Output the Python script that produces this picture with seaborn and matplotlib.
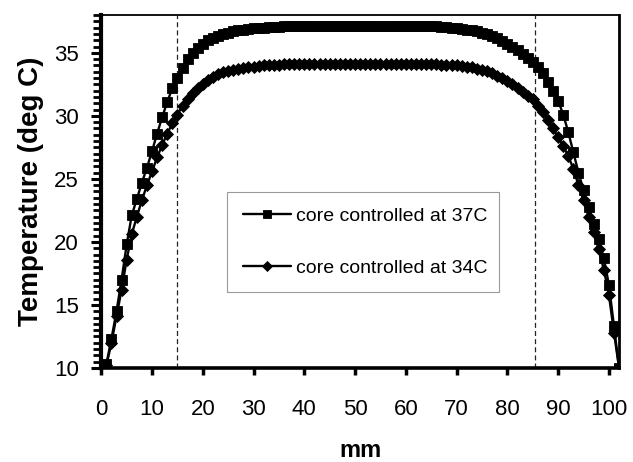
import numpy as np
import pandas as pd
import matplotlib
matplotlib.use("Agg")
import matplotlib.pyplot as plt
from matplotlib.ticker import MultipleLocator
import seaborn as sns

# ---- data ----
mm = list(range(0, 103))

temp_37 = [
    10.0, 10.3, 12.3, 14.5, 17.0, 19.8, 22.1, 23.4, 24.7, 25.9,
    27.2, 28.6, 29.9, 31.1, 32.2, 33.0, 33.8, 34.5, 35.0, 35.4,
    35.7, 36.0, 36.2, 36.35, 36.5, 36.6, 36.7, 36.8, 36.85, 36.9,
    36.95, 37.0, 37.0, 37.05, 37.05, 37.05, 37.1, 37.1, 37.1, 37.1,
    37.1, 37.1, 37.1, 37.1, 37.1, 37.1, 37.1, 37.1, 37.1, 37.1,
    37.1, 37.1, 37.1, 37.1, 37.1, 37.1, 37.1, 37.1, 37.1, 37.1,
    37.1, 37.1, 37.1, 37.1, 37.1, 37.1, 37.1, 37.05, 37.05, 37.0,
    36.95, 36.9, 36.85, 36.8, 36.7, 36.6, 36.5, 36.35, 36.2, 35.95,
    35.7, 35.45, 35.2, 34.9, 34.6, 34.3, 33.9, 33.4, 32.7, 32.0,
    31.2, 30.1, 28.7, 27.1, 25.5, 24.1, 22.8, 21.4, 20.2, 18.7,
    16.6, 13.3, 10.0,
]

temp_34 = [
    10.0, 10.2, 12.0, 14.1, 16.2, 18.6, 20.6, 22.0, 23.3, 24.5,
    25.6, 26.7, 27.7, 28.6, 29.4, 30.1, 30.8, 31.3, 31.8, 32.2,
    32.55, 32.85, 33.1, 33.3, 33.45, 33.55, 33.65, 33.75, 33.8, 33.85,
    33.9, 33.95, 34.0, 34.0, 34.05, 34.05, 34.1, 34.1, 34.1, 34.1,
    34.1, 34.1, 34.1, 34.1, 34.1, 34.1, 34.1, 34.1, 34.1, 34.1,
    34.1, 34.1, 34.1, 34.1, 34.1, 34.1, 34.1, 34.1, 34.1, 34.1,
    34.1, 34.1, 34.1, 34.1, 34.1, 34.1, 34.1, 34.05, 34.05, 34.0,
    34.0, 33.95, 33.9, 33.85, 33.75, 33.65, 33.55, 33.4, 33.2, 33.0,
    32.8, 32.5, 32.2, 31.9, 31.6, 31.3, 30.8, 30.3, 29.7, 29.0,
    28.3, 27.6, 26.8, 25.8, 24.5, 23.3, 22.0, 20.8, 19.4, 17.8,
    15.8, 12.8, 10.0,
]

series_names = ["core controlled at 37C", "core controlled at 34C"]
boundaries_mm = [15.0, 85.4]
x_ticks = [0, 10, 20, 30, 40, 50, 60, 70, 80, 90, 100]
y_ticks = [10, 15, 20, 25, 30, 35]

df = pd.DataFrame({
    "mm": mm + mm,
    "temp": temp_37 + temp_34,
    "series": [series_names[0]] * len(mm) + [series_names[1]] * len(mm),
})

# ---- style ----
sns.set_style("ticks")
plt.rcParams["font.family"] = ["Liberation Sans", "DejaVu Sans"]
plt.rcParams["text.color"] = "black"
plt.rcParams["axes.labelcolor"] = "black"
plt.rcParams["xtick.color"] = "black"
plt.rcParams["ytick.color"] = "black"

fig = plt.figure(figsize=(6.33, 4.62), dpi=100)
ax = fig.add_axes([0.160, 0.2035, 0.818, 0.764])

sns.lineplot(
    data=df, x="mm", y="temp", hue="series", style="series",
    hue_order=series_names, style_order=series_names,
    palette={series_names[0]: "black", series_names[1]: "black"},
    markers={series_names[0]: "s", series_names[1]: "D"},
    dashes=False, markersize=7.5, linewidth=1.7,
    markeredgecolor="black", markeredgewidth=0.6,
    sort=False, errorbar=None, ax=ax,
)
for ln in ax.lines:
    if ln.get_marker() == "D":
        ln.set_markersize(5.8)

for b in boundaries_mm:
    ax.axvline(b, color="#222222", linewidth=0.9, linestyle=(0, (4, 2.5)), zorder=1)

ax.set_xlim(0, 102)
ax.set_ylim(10, 38)
ax.set_xticks(x_ticks)
ax.set_yticks(y_ticks)
ax.yaxis.set_minor_locator(MultipleLocator(0.5))

ax.tick_params(axis="y", which="major", direction="out", length=7, width=2.2,
               labelsize=16, pad=9, color="black", labelcolor="black")
ax.tick_params(axis="y", which="minor", direction="out", length=6, width=2.0, color="black")
ax.tick_params(axis="x", which="major", direction="out", length=5, width=2.5,
               labelsize=16, pad=17, color="black", labelcolor="black")

for side, w in {"left": 3.0, "bottom": 2.6, "right": 2.0, "top": 1.3}.items():
    ax.spines[side].set_visible(True)
    ax.spines[side].set_linewidth(w)
    ax.spines[side].set_color("black")

ax.set_xlabel("mm", fontsize=17, fontweight="bold", labelpad=14)
ax.set_ylabel("Temperature (deg C)", fontsize=20, fontweight="bold", labelpad=7)

handles, labels = ax.get_legend_handles_labels()
leg = ax.legend(
    handles, labels, loc="center", mode="expand",
    bbox_to_anchor=(0.243, 0.201, 0.525, 0.312), borderaxespad=0,
    frameon=True, fancybox=False, edgecolor="#9a9a9a", framealpha=1,
    fontsize=14, labelspacing=1.75, handlelength=2.5, handletextpad=0.25,
    borderpad=0.8, markerscale=0.85,
)
leg.get_frame().set_linewidth(0.8)
for t in leg.get_texts():
    t.set_color("black")

fig.savefig("out.png", dpi=100)
